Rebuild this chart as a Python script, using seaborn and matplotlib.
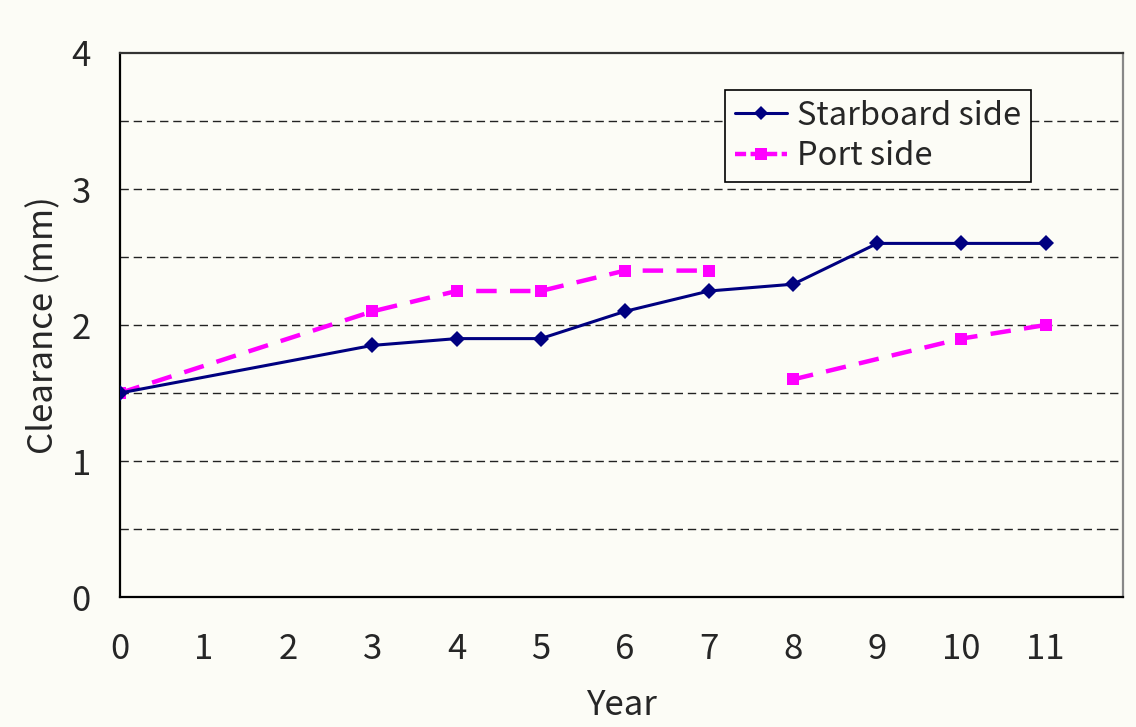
import numpy as np
import pandas as pd
import seaborn as sns
import matplotlib.pyplot as plt
from matplotlib.lines import Line2D

# Clearance readings per year
starboard_years = [0, 3, 4, 5, 6, 7, 8, 9, 10, 11]
starboard_vals = [1.5, 1.85, 1.9, 1.9, 2.1, 2.25, 2.3, 2.6, 2.6, 2.6]

port_years = [0, 3, 4, 5, 6, 7, 8, 10, 11]
port_vals = [1.5, 2.1, 2.25, 2.25, 2.4, 2.4, 1.6, 1.9, 2.0]
port_segment = [1, 1, 1, 1, 1, 1, 2, 2, 2]   # line breaks between year 7 and 8

x_ticks = list(range(0, 12))
y_ticks = [0, 1, 2, 3, 4]

bg = '#fcfcf6'
navy = '#000080'
magenta = '#ff00ff'

sns.set_style('white')
plt.rcParams['font.family'] = ['Noto Sans CJK JP', 'DejaVu Sans']

stb_df = pd.DataFrame({'Year': starboard_years, 'Clearance': starboard_vals})
port_df = pd.DataFrame({'Year': port_years, 'Clearance': port_vals, 'seg': port_segment})

fig = plt.figure(figsize=(11.36, 7.27), dpi=100, facecolor=bg)
ax = fig.add_axes([0.1056, 0.1788, 0.8830, 0.7483])
ax.set_facecolor(bg)

# gridlines every 0.5
for y in np.arange(0.5, 4.0, 0.5):
    ax.axhline(y, color='#222222', lw=1.0, ls=(0, (6, 3.5)), zorder=1)

for seg, part in port_df.groupby('seg'):
    sns.lineplot(data=part, x='Year', y='Clearance', ax=ax, color=magenta,
                 lw=3.2, linestyle=(0, (4.6, 3.0)), marker='s', markersize=9,
                 markeredgewidth=0, zorder=3)

sns.lineplot(data=stb_df, x='Year', y='Clearance', ax=ax, color=navy,
             lw=2.2, marker='D', markersize=8, markeredgewidth=0, zorder=4)

ax.set_xlim(0, 11.92)
ax.set_ylim(0, 4)
ax.set_xticks(x_ticks)
ax.set_yticks(y_ticks)
ax.tick_params(axis='x', direction='inout', length=16, width=1.2, color='black',
               labelsize=25, pad=17)
ax.tick_params(axis='y', length=0, labelsize=25, pad=21)

ax.set_xlabel('Year', fontsize=25, labelpad=15)
ax.set_ylabel('Clearance (mm)', fontsize=25, labelpad=7)

for side in ['left', 'bottom']:
    ax.spines[side].set_color('black')
    ax.spines[side].set_linewidth(1.6)
ax.spines['top'].set_color('#333333')
ax.spines['top'].set_linewidth(1.6)
ax.spines['right'].set_color('#888888')
ax.spines['right'].set_linewidth(1.6)

handles = [
    Line2D([], [], color=navy, lw=2.2, marker='D', markersize=7, markeredgewidth=0),
    Line2D([], [], color=magenta, lw=3.2, linestyle=(0, (2.5, 1.0)), marker='s',
           markersize=9, markeredgewidth=0),
]
leg = ax.legend(handles, ['Starboard side', 'Port side'], loc='upper left',
                bbox_to_anchor=(0.603, 0.932), fontsize=23.5, frameon=True,
                fancybox=False, edgecolor='black', facecolor=bg, framealpha=1,
                handlelength=1.6, handletextpad=0.3, borderpad=0.3,
                labelspacing=0.25, borderaxespad=0)
leg.get_frame().set_linewidth(1.2)

fig.savefig('out.png', dpi=100, facecolor=bg)
